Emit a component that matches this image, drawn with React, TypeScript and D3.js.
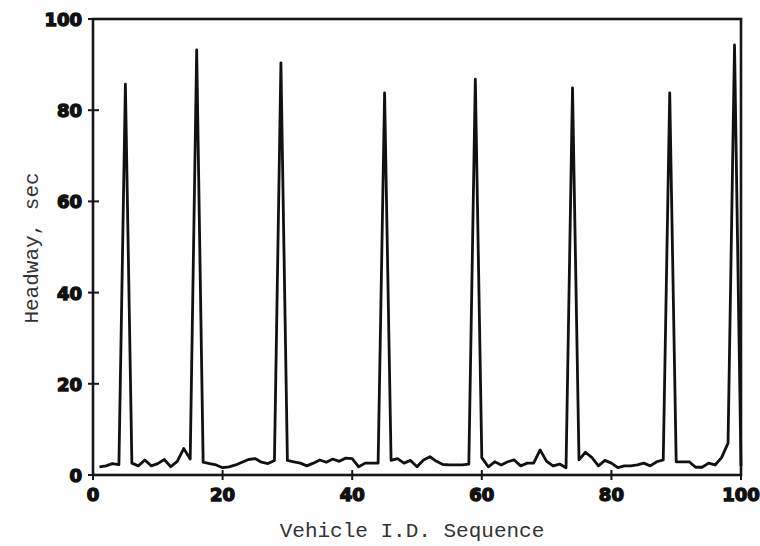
import { useEffect, useRef } from "react";
import * as d3 from "d3";

// Vehicle sequence numbers 1..100 and measured headways (sec)
const vehicleIds = d3.range(1, 101);
const headways = [
  1.8, 2.0, 2.5, 2.3, 85.7, 2.6, 2.0, 3.3, 2.0, 2.5,
  3.4, 1.8, 3.0, 5.8, 3.5, 93.2, 2.8, 2.5, 2.2, 1.6,
  1.8, 2.2, 2.8, 3.4, 3.6, 2.8, 2.5, 3.2, 90.4, 3.2,
  2.9, 2.6, 2.0, 2.6, 3.3, 2.8, 3.5, 3.0, 3.7, 3.6,
  1.8, 2.6, 2.6, 2.6, 83.8, 3.2, 3.6, 2.6, 3.2, 1.8,
  3.3, 4.0, 3.0, 2.3, 2.2, 2.2, 2.2, 2.4, 86.8, 3.8,
  1.8, 2.9, 2.2, 2.9, 3.3, 2.0, 2.6, 2.6, 5.5, 3.0,
  2.0, 2.4, 1.6, 84.9, 3.3, 5.0, 3.8, 2.0, 3.2, 2.6,
  1.6, 2.0, 2.0, 2.2, 2.6, 2.0, 2.9, 3.3, 83.8, 2.9,
  2.9, 2.9, 1.7, 1.7, 2.6, 2.2, 3.8, 7.0, 94.3, 2.0,
];
const xTicks = [0, 20, 40, 60, 80, 100];
const yTicks = [0, 20, 40, 60, 80, 100];

const App = () => {
  const svgRef = useRef<SVGSVGElement | null>(null);

  useEffect(() => {
    const svg = d3.select(svgRef.current);
    svg.selectAll("*").remove();

    const width = 760;
    const height = 546;
    const left = 93;
    const right = 741;
    const top = 19;
    const bottom = 475;

    const x = d3.scaleLinear().domain([0, 100]).range([left, right]);
    const y = d3.scaleLinear().domain([0, 100]).range([bottom, top]);

    svg.attr("width", width).attr("height", height);

    svg
      .append("rect")
      .attr("width", width)
      .attr("height", height)
      .attr("fill", "#fff");

    // Frame
    svg
      .append("rect")
      .attr("x", left)
      .attr("y", top)
      .attr("width", right - left)
      .attr("height", bottom - top)
      .attr("fill", "none")
      .attr("stroke", "#161616")
      .attr("stroke-width", 2.6);

    const tickFont = "'DejaVu Sans', sans-serif";

    // X ticks (crossing the axis)
    const xg = svg.append("g");
    xg.selectAll("line")
      .data(xTicks)
      .join("line")
      .attr("x1", (d) => x(d))
      .attr("x2", (d) => x(d))
      .attr("y1", bottom - 5)
      .attr("y2", bottom + 5)
      .attr("stroke", "#161616")
      .attr("stroke-width", 2);
    xg.selectAll("text")
      .data(xTicks)
      .join("text")
      .attr("x", (d) => x(d))
      .attr("y", bottom + 26)
      .attr("text-anchor", "middle")
      .attr("font-family", tickFont)
      .attr("font-weight", "bold")
      .attr("font-size", 18)
      .attr("fill", "#111")
      .attr("stroke", "#111")
      .attr("stroke-width", 1.4)
      .text((d) => d);

    // Y ticks
    const yg = svg.append("g");
    yg.selectAll("line")
      .data(yTicks)
      .join("line")
      .attr("x1", left - 5)
      .attr("x2", left + 6)
      .attr("y1", (d) => y(d))
      .attr("y2", (d) => y(d))
      .attr("stroke", "#161616")
      .attr("stroke-width", 2);
    yg.selectAll("text")
      .data(yTicks)
      .join("text")
      .attr("x", left - 11)
      .attr("y", (d) => y(d) + 7)
      .attr("text-anchor", "end")
      .attr("font-family", tickFont)
      .attr("font-weight", "bold")
      .attr("font-size", 18)
      .attr("fill", "#111")
      .attr("stroke", "#111")
      .attr("stroke-width", 1.4)
      .text((d) => d);

    // Headway line
    const line = d3
      .line<number>()
      .x((_, i) => x(vehicleIds[i]))
      .y((d) => y(d));

    svg
      .append("path")
      .datum(headways)
      .attr("fill", "none")
      .attr("stroke", "#111")
      .attr("stroke-width", 2.8)
      .attr("stroke-linejoin", "round")
      .attr("d", line);

    // Axis labels
    const labelFont = "'Liberation Mono', 'DejaVu Sans Mono', monospace";
    svg
      .append("text")
      .attr("x", 412)
      .attr("y", 537)
      .attr("text-anchor", "middle")
      .attr("font-family", labelFont)
      .attr("font-size", 21)
      .attr("fill", "#333")
      .text("Vehicle I.D. Sequence");

    svg
      .append("text")
      .attr("transform", `translate(38,248) rotate(-90)`)
      .attr("text-anchor", "middle")
      .attr("font-family", labelFont)
      .attr("font-size", 21)
      .attr("fill", "#333")
      .text("Headway, sec");
  }, []);

  return (
    <svg
      ref={svgRef}
      style={{ position: "absolute", left: 0, top: 0, display: "block" }}
    ></svg>
  );
};

export default App;
